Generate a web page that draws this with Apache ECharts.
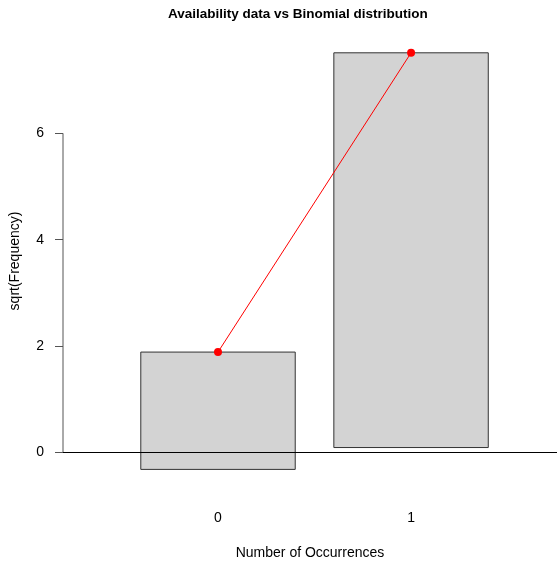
<!DOCTYPE html>
<html>
<head>
<meta charset="utf-8">
<script src="https://cdn.jsdelivr.net/npm/echarts@6/dist/echarts.min.js"></script>
<style>
  html, body { margin: 0; padding: 0; background: #fff; }
  #chart { width: 557px; height: 565px; }
</style>
</head>
<body>
<div id="chart"></div>
<script>
  // counts 0 and 1, square-root scale (hanging rootogram)
  const categories = [0, 1]
  const sqrtExpected = [1.888, 7.514]
  const sqrtObserved = [2.206, 7.421]
  const yTicks = [0, 2, 4, 6]

  const xMin = -0.803
  const xMax = 1.756
  const barWidth = 0.8

  const bars = categories.map((c, i) => [c, sqrtExpected[i] - sqrtObserved[i], sqrtExpected[i]])
  const fitted = categories.map((c, i) => [c, sqrtExpected[i]])

  const font = 'Liberation Sans, Arial, Helvetica, sans-serif'
  const chart = echarts.init(document.getElementById('chart'))

  chart.setOption({
    animation: false,
    backgroundColor: '#fff',
    title: {
      text: 'Availability data vs Binomial distribution',
      left: 163,
      top: 2,
      textStyle: { fontFamily: font, fontSize: 13.5, fontWeight: 'bold', color: '#000' }
    },
    grid: { left: 63, right: 0, top: 36, bottom: 76 },
    xAxis: {
      type: 'value',
      min: xMin,
      max: xMax,
      name: 'Number of Occurrences',
      nameLocation: 'middle',
      nameGap: 60,
      nameTextStyle: { fontFamily: font, fontSize: 14, color: '#000' },
      axisLine: { show: false },
      axisTick: { show: false },
      splitLine: { show: false },
      axisLabel: {
        customValues: categories,
        margin: 25,
        fontFamily: font,
        fontSize: 14,
        color: '#000'
      }
    },
    yAxis: {
      type: 'value',
      min: -0.63,
      max: 7.83,
      name: 'sqrt(Frequency)',
      nameLocation: 'middle',
      nameGap: 41,
      nameTextStyle: { fontFamily: font, fontSize: 14, color: '#000' },
      axisLine: { show: false, onZero: false },
      splitLine: { show: false },
      axisTick: {
        show: true,
        customValues: yTicks,
        length: 8,
        lineStyle: { color: '#555', width: 1 }
      },
      axisLabel: {
        customValues: yTicks,
        margin: 19,
        fontFamily: font,
        fontSize: 14,
        color: '#000'
      }
    },
    series: [
      {
        // y axis line, from first tick to last tick
        type: 'line',
        data: [[xMin, yTicks[0]], [xMin, yTicks[yTicks.length - 1]]],
        symbol: 'none',
        silent: true,
        lineStyle: { color: '#555', width: 1 },
        z: 3
      },
      {
        type: 'custom',
        data: bars,
        renderItem(params, api) {
          const x = api.value(0)
          const p1 = api.coord([x - barWidth / 2, api.value(2)])
          const p2 = api.coord([x + barWidth / 2, api.value(1)])
          return {
            type: 'rect',
            shape: { x: p1[0], y: p1[1], width: p2[0] - p1[0], height: p2[1] - p1[1] },
            style: { fill: '#d3d3d3', stroke: '#333', lineWidth: 1 }
          }
        },
        markLine: {
          silent: true,
          symbol: 'none',
          label: { show: false },
          lineStyle: { color: '#000', width: 1, type: 'solid' },
          data: [{ yAxis: 0 }]
        },
        z: 2
      },
      {
        type: 'line',
        data: fitted,
        symbol: 'circle',
        symbolSize: 8,
        itemStyle: { color: '#ff0000' },
        lineStyle: { color: '#ff0000', width: 1 },
        z: 5
      }
    ]
  })
</script>
</body>
</html>
